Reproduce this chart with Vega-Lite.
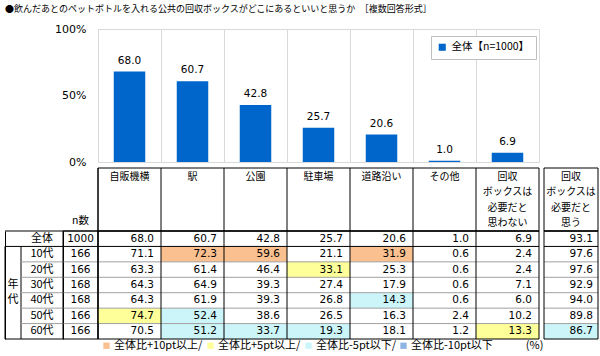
{
  "$schema": "https://vega.github.io/schema/vega-lite/v6.json",
  "padding": {"left": 4, "top": 4, "right": 3, "bottom": 0},
  "title": {"text": "●飲んだあとのペットボトルを入れる公共の回収ボックスがどこにあるといいと思うか　［複数回答形式］", "anchor": "start", "frame": "group", "fontSize": 9, "fontWeight": "normal", "font": "Noto Sans CJK JP", "color": "#000", "offset": 9},
  "config": {"view": {"stroke": null}, "font": "Noto Sans CJK JP"},
  "columns": 6,
  "spacing": 0,
  "align": "each",
  "bounds": "flush",
  "resolve": {"scale": {"color": "independent", "fill": "independent"}},
  "datasets": {
    "rows": [
      {"row": "全体", "n": 1000}, {"row": "10代", "n": 166}, {"row": "20代", "n": 166}, {"row": "30代", "n": 168},
      {"row": "40代", "n": 168}, {"row": "50代", "n": 166}, {"row": "60代", "n": 166}
    ],
    "cols": [
      {"col": "自販機横", "header": "自販機横"}, {"col": "駅", "header": "駅"}, {"col": "公園", "header": "公園"},
      {"col": "駐車場", "header": "駐車場"}, {"col": "道路沿い", "header": "道路沿い"}, {"col": "その他", "header": "その他"},
      {"col": "回収ボックスは必要だと思わない", "header": "回収\nボックスは\n必要だと\n思わない"},
      {"col": "回収ボックスは必要だと思う", "header": "回収\nボックスは\n必要だと\n思う"}
    ],
    "cells": [
      {"row": "全体", "col": "自販機横", "value": 68.0}, {"row": "全体", "col": "駅", "value": 60.7}, {"row": "全体", "col": "公園", "value": 42.8}, {"row": "全体", "col": "駐車場", "value": 25.7}, {"row": "全体", "col": "道路沿い", "value": 20.6}, {"row": "全体", "col": "その他", "value": 1.0}, {"row": "全体", "col": "回収ボックスは必要だと思わない", "value": 6.9}, {"row": "全体", "col": "回収ボックスは必要だと思う", "value": 93.1},
      {"row": "10代", "col": "自販機横", "value": 71.1}, {"row": "10代", "col": "駅", "value": 72.3}, {"row": "10代", "col": "公園", "value": 59.6}, {"row": "10代", "col": "駐車場", "value": 21.1}, {"row": "10代", "col": "道路沿い", "value": 31.9}, {"row": "10代", "col": "その他", "value": 0.6}, {"row": "10代", "col": "回収ボックスは必要だと思わない", "value": 2.4}, {"row": "10代", "col": "回収ボックスは必要だと思う", "value": 97.6},
      {"row": "20代", "col": "自販機横", "value": 63.3}, {"row": "20代", "col": "駅", "value": 61.4}, {"row": "20代", "col": "公園", "value": 46.4}, {"row": "20代", "col": "駐車場", "value": 33.1}, {"row": "20代", "col": "道路沿い", "value": 25.3}, {"row": "20代", "col": "その他", "value": 0.6}, {"row": "20代", "col": "回収ボックスは必要だと思わない", "value": 2.4}, {"row": "20代", "col": "回収ボックスは必要だと思う", "value": 97.6},
      {"row": "30代", "col": "自販機横", "value": 64.3}, {"row": "30代", "col": "駅", "value": 64.9}, {"row": "30代", "col": "公園", "value": 39.3}, {"row": "30代", "col": "駐車場", "value": 27.4}, {"row": "30代", "col": "道路沿い", "value": 17.9}, {"row": "30代", "col": "その他", "value": 0.6}, {"row": "30代", "col": "回収ボックスは必要だと思わない", "value": 7.1}, {"row": "30代", "col": "回収ボックスは必要だと思う", "value": 92.9},
      {"row": "40代", "col": "自販機横", "value": 64.3}, {"row": "40代", "col": "駅", "value": 61.9}, {"row": "40代", "col": "公園", "value": 39.3}, {"row": "40代", "col": "駐車場", "value": 26.8}, {"row": "40代", "col": "道路沿い", "value": 14.3}, {"row": "40代", "col": "その他", "value": 0.6}, {"row": "40代", "col": "回収ボックスは必要だと思わない", "value": 6.0}, {"row": "40代", "col": "回収ボックスは必要だと思う", "value": 94.0},
      {"row": "50代", "col": "自販機横", "value": 74.7}, {"row": "50代", "col": "駅", "value": 52.4}, {"row": "50代", "col": "公園", "value": 38.6}, {"row": "50代", "col": "駐車場", "value": 26.5}, {"row": "50代", "col": "道路沿い", "value": 16.3}, {"row": "50代", "col": "その他", "value": 2.4}, {"row": "50代", "col": "回収ボックスは必要だと思わない", "value": 10.2}, {"row": "50代", "col": "回収ボックスは必要だと思う", "value": 89.8},
      {"row": "60代", "col": "自販機横", "value": 70.5}, {"row": "60代", "col": "駅", "value": 51.2}, {"row": "60代", "col": "公園", "value": 33.7}, {"row": "60代", "col": "駐車場", "value": 19.3}, {"row": "60代", "col": "道路沿い", "value": 18.1}, {"row": "60代", "col": "その他", "value": 1.2}, {"row": "60代", "col": "回収ボックスは必要だと思わない", "value": 13.3}, {"row": "60代", "col": "回収ボックスは必要だと思う", "value": 86.7}
    ]
  },
  "concat": [
    {"width": 16, "height": 139, "data": {"values": [{}]}, "mark": "text", "encoding": {"text": {"value": ""}}},
    {"width": 42, "height": 139, "data": {"values": [{}]}, "mark": "text", "encoding": {"text": {"value": ""}}},
    {"width": 35, "height": 139, "data": {"values": [{}]}, "mark": "text", "encoding": {"text": {"value": ""}}},
    {
      "width": 441, "height": 133,
      "data": {"name": "cells"},
      "transform": [{"filter": "datum.row === '全体' && datum.col !== '回収ボックスは必要だと思う'"}],
      "view": {"stroke": "#D9D9D9"},
      "encoding": {
        "x": {"field": "col", "type": "nominal", "scale": {"type": "band", "domain": ["自販機横", "駅", "公園", "駐車場", "道路沿い", "その他", "回収ボックスは必要だと思わない"], "paddingInner": 0, "paddingOuter": 0},
          "axis": {"grid": true, "bandPosition": 0, "gridColor": "#D9D9D9", "labels": false, "ticks": false, "domain": false, "title": null}},
        "y": {"field": "value", "type": "quantitative", "scale": {"domain": [0, 100]},
          "axis": {"values": [0, 50, 100], "labelExpr": "datum.value + '%'", "grid": false, "ticks": false, "domain": false, "title": null, "labelPadding": 12, "labelFont": "DejaVu Sans", "labelFontSize": 11, "labelColor": "#000"}}
      },
      "layer": [
        {"mark": {"type": "bar", "width": {"band": 0.5}},
          "encoding": {"color": {"datum": "全体【n=1000】", "type": "nominal", "scale": {"range": ["#0066CC"]},
            "legend": {"orient": "none", "legendX": 333, "legendY": 7, "title": null, "strokeColor": "#BFBFBF", "fillColor": "#FFFFFF", "padding": 6, "symbolType": "square", "symbolSize": 50, "symbolStrokeWidth": 0, "labelFont": "Noto Sans CJK JP", "labelFontSize": 10.5, "labelColor": "#000"}}}},
        {"mark": {"type": "text", "baseline": "alphabetic", "dy": -8, "font": "DejaVu Sans", "fontSize": 10.5, "color": "#000"},
          "encoding": {"text": {"field": "value", "type": "quantitative", "format": ".1f"}}}
      ]
    },
    {"width": 5, "height": 139, "data": {"values": [{}]}, "mark": "text", "encoding": {"text": {"value": ""}}},
    {"width": 54, "height": 139, "data": {"values": [{}]}, "mark": "text", "encoding": {"text": {"value": ""}}},

    {"width": 16, "height": 63, "data": {"values": [{}]}, "mark": "text", "encoding": {"text": {"value": ""}}},
    {"width": 42, "height": 63, "data": {"values": [{}]}, "mark": "text", "encoding": {"text": {"value": ""}}},
    {"width": 35, "height": 63, "data": {"values": [{"h": "n数"}]}, "mark": {"type": "text", "fontSize": 10.5, "baseline": "middle", "dy": 21, "color": "#000"}, "encoding": {"text": {"field": "h"}}},
    {
      "width": 441, "height": 63,
      "layer": [
        {"data": {"name": "cols"}, "transform": [{"filter": "datum.col !== '回収ボックスは必要だと思う'"}],
          "mark": {"type": "rule", "color": "#000"},
          "encoding": {"x": {"field": "col", "type": "nominal", "bandPosition": 0, "scale": {"type": "band", "domain": ["自販機横", "駅", "公園", "駐車場", "道路沿い", "その他", "回収ボックスは必要だと思わない"], "paddingInner": 0, "paddingOuter": 0}, "axis": null}}},
        {"data": {"values": [{}]}, "mark": {"type": "rect", "fill": "transparent", "stroke": "#000", "strokeWidth": 1}, "encoding": {}},
        {"data": {"name": "cols"}, "transform": [{"filter": "datum.col !== '回収ボックスは必要だと思う'"}],
          "mark": {"type": "text", "baseline": "top", "lineBreak": "\n", "lineHeight": 15.6, "fontSize": 10, "dy": -28, "color": "#000"},
          "encoding": {"x": {"field": "col", "type": "nominal", "scale": {"type": "band", "domain": ["自販機横", "駅", "公園", "駐車場", "道路沿い", "その他", "回収ボックスは必要だと思わない"], "paddingInner": 0, "paddingOuter": 0}, "axis": null},
            "text": {"field": "header"}}}
      ]
    },
    {"width": 5, "height": 63, "data": {"values": [{}]}, "mark": "text", "encoding": {"text": {"value": ""}}},
    {
      "width": 54, "height": 63,
      "layer": [
        {"data": {"values": [{}]}, "mark": {"type": "rect", "fill": "transparent", "stroke": "#000", "strokeWidth": 1}, "encoding": {}},
        {"data": {"name": "cols"}, "transform": [{"filter": "datum.col === '回収ボックスは必要だと思う'"}],
          "mark": {"type": "text", "baseline": "top", "lineBreak": "\n", "lineHeight": 15.6, "fontSize": 10, "dy": -28, "color": "#000"},
          "encoding": {"text": {"field": "header"}}}
      ]
    },

    {
      "width": 16, "height": 108,
      "layer": [
        {"data": {"values": [{"from": "10代", "to": "60代"}]},
          "mark": {"type": "rect", "fill": "transparent", "stroke": "#000", "strokeWidth": 1},
          "encoding": {
            "y": {"field": "from", "type": "nominal", "bandPosition": 0, "scale": {"type": "band", "domain": ["全体", "10代", "20代", "30代", "40代", "50代", "60代"], "paddingInner": 0, "paddingOuter": 0},
              "axis": {"orient": "left", "domain": true, "domainColor": "#000", "labels": false, "ticks": false, "grid": false, "title": null}},
            "y2": {"field": "to", "bandPosition": 1}
          }},
        {"data": {"values": [{"row": "30代", "ch": "年"}, {"row": "40代", "ch": "代"}]},
          "mark": {"type": "text", "fontSize": 11, "color": "#000"},
          "encoding": {
            "y": {"field": "row", "type": "nominal", "scale": {"type": "band", "domain": ["全体", "10代", "20代", "30代", "40代", "50代", "60代"], "paddingInner": 0, "paddingOuter": 0},
              "axis": {"orient": "left", "domain": true, "domainColor": "#000", "labels": false, "ticks": false, "grid": false, "title": null}},
            "text": {"field": "ch"}
          }},
        {"data": {"name": "rows"}, "transform": [{"filter": "datum.row === '全体'"}],
          "mark": {"type": "rule", "color": "#000"},
          "encoding": {
            "y": {"field": "row", "type": "nominal", "bandPosition": 0, "scale": {"type": "band", "domain": ["全体", "10代", "20代", "30代", "40代", "50代", "60代"], "paddingInner": 0, "paddingOuter": 0},
              "axis": {"orient": "left", "domain": true, "domainColor": "#000", "labels": false, "ticks": false, "grid": false, "title": null}}
          }}
      ]
    },
    {
      "width": 42, "height": 108,
      "layer": [
        {"data": {"name": "rows"},
          "mark": {"type": "rule"},
          "encoding": {
            "y": {"field": "row", "type": "nominal", "bandPosition": 0, "scale": {"type": "band", "domain": ["全体", "10代", "20代", "30代", "40代", "50代", "60代"], "paddingInner": 0, "paddingOuter": 0},
              "axis": {"orient": "right", "domain": true, "domainColor": "#000", "labels": false, "ticks": false, "grid": false, "title": null}},
            "color": {"condition": {"test": "datum.row === '全体' || datum.row === '10代'", "value": "#000000"}, "value": "#A0A0A0"}
          }},
        {"data": {"name": "rows"}, "transform": [{"filter": "datum.row === '60代'"}],
          "mark": {"type": "rule", "color": "#000"},
          "encoding": {
            "y": {"field": "row", "type": "nominal", "bandPosition": 1, "scale": {"type": "band", "domain": ["全体", "10代", "20代", "30代", "40代", "50代", "60代"], "paddingInner": 0, "paddingOuter": 0},
              "axis": {"orient": "right", "domain": true, "domainColor": "#000", "labels": false, "ticks": false, "grid": false, "title": null}}
          }},
        {"data": {"name": "rows"},
          "mark": {"type": "text", "fontSize": 11, "color": "#000"},
          "encoding": {
            "y": {"field": "row", "type": "nominal", "scale": {"type": "band", "domain": ["全体", "10代", "20代", "30代", "40代", "50代", "60代"], "paddingInner": 0, "paddingOuter": 0},
              "axis": {"orient": "right", "domain": true, "domainColor": "#000", "labels": false, "ticks": false, "grid": false, "title": null}},
            "text": {"field": "row"}
          }}
      ]
    },
    {
      "width": 35, "height": 108,
      "layer": [
        {"data": {"name": "rows"},
          "mark": {"type": "rule"},
          "encoding": {
            "y": {"field": "row", "type": "nominal", "bandPosition": 0, "scale": {"type": "band", "domain": ["全体", "10代", "20代", "30代", "40代", "50代", "60代"], "paddingInner": 0, "paddingOuter": 0}, "axis": null},
            "color": {"condition": {"test": "datum.row === '全体' || datum.row === '10代'", "value": "#000000"}, "value": "#A0A0A0"}
          }},
        {"data": {"values": [{}]}, "mark": {"type": "rect", "fill": "transparent", "stroke": "#000", "strokeWidth": 1}, "encoding": {}},
        {"data": {"name": "rows"},
          "mark": {"type": "text", "font": "DejaVu Sans", "fontSize": 10.5, "color": "#000"},
          "encoding": {
            "y": {"field": "row", "type": "nominal", "scale": {"type": "band", "domain": ["全体", "10代", "20代", "30代", "40代", "50代", "60代"], "paddingInner": 0, "paddingOuter": 0}, "axis": null},
            "text": {"field": "n", "type": "quantitative", "format": "d"}
          }}
      ]
    },
    {
      "width": 441, "height": 108,
      "layer": [
        {"data": {"name": "cells"},
          "transform": [
            {"filter": "datum.col !== '回収ボックスは必要だと思う'"},
            {"calculate": "datum.row === '全体' ? datum.value : null", "as": "b"},
            {"joinaggregate": [{"op": "max", "field": "b", "as": "base"}], "groupby": ["col"]},
            {"calculate": "datum.value - datum.base >= 10 ? '全体比+10pt以上' : datum.value - datum.base >= 5 ? '全体比+5pt以上' : datum.value - datum.base <= -10 ? '全体比-10pt以下' : datum.value - datum.base <= -5 ? '全体比-5pt以下' : ''", "as": "hl"},
            {"filter": "datum.hl !== ''"}
          ],
          "mark": {"type": "rect"},
          "encoding": {
            "x": {"field": "col", "type": "nominal", "scale": {"type": "band", "domain": ["自販機横", "駅", "公園", "駐車場", "道路沿い", "その他", "回収ボックスは必要だと思わない"], "paddingInner": 0, "paddingOuter": 0}, "axis": null},
            "y": {"field": "row", "type": "nominal", "scale": {"type": "band", "domain": ["全体", "10代", "20代", "30代", "40代", "50代", "60代"], "paddingInner": 0, "paddingOuter": 0}, "axis": null},
            "fill": {"field": "hl", "type": "nominal",
              "scale": {"domain": ["全体比+10pt以上", "全体比+5pt以上", "全体比-5pt以下", "全体比-10pt以下"], "range": ["#FAC090", "#FFFF99", "#CCF5FA", "#8DB4E2"]},
              "legend": {"orient": "none", "legendX": 3, "legendY": 109, "direction": "horizontal", "columns": 4, "title": null, "padding": 0,
                "symbolType": "square", "symbolSize": 40, "symbolStrokeWidth": 0, "symbolOffset": 0, "labelOffset": 2, "columnPadding": 2,
                "labelFont": "Noto Sans CJK JP", "labelFontSize": 11, "labelColor": "#000", "labelLimit": 300,
                "labelExpr": "datum.label === '全体比-10pt以下' ? datum.label + '　　　(%)' : datum.label + '/'"}}
          }},
        {"data": {"name": "rows"},
          "mark": {"type": "rule"},
          "encoding": {
            "y": {"field": "row", "type": "nominal", "bandPosition": 0, "scale": {"type": "band", "domain": ["全体", "10代", "20代", "30代", "40代", "50代", "60代"], "paddingInner": 0, "paddingOuter": 0}, "axis": null},
            "color": {"condition": {"test": "datum.row === '全体' || datum.row === '10代'", "value": "#000000"}, "value": "#A0A0A0"}
          }},
        {"data": {"name": "cols"}, "transform": [{"filter": "datum.col !== '回収ボックスは必要だと思う'"}],
          "mark": {"type": "rule", "color": "#000"},
          "encoding": {"x": {"field": "col", "type": "nominal", "bandPosition": 0, "scale": {"type": "band", "domain": ["自販機横", "駅", "公園", "駐車場", "道路沿い", "その他", "回収ボックスは必要だと思わない"], "paddingInner": 0, "paddingOuter": 0}, "axis": null}}},
        {"data": {"values": [{}]}, "mark": {"type": "rect", "fill": "transparent", "stroke": "#000", "strokeWidth": 1}, "encoding": {}},
        {"data": {"name": "cells"}, "transform": [{"filter": "datum.col !== '回収ボックスは必要だと思う'"}],
          "mark": {"type": "text", "align": "right", "dx": -7, "font": "DejaVu Sans", "fontSize": 10.5, "color": "#000"},
          "encoding": {
            "x": {"field": "col", "type": "nominal", "bandPosition": 1, "scale": {"type": "band", "domain": ["自販機横", "駅", "公園", "駐車場", "道路沿い", "その他", "回収ボックスは必要だと思わない"], "paddingInner": 0, "paddingOuter": 0}, "axis": null},
            "y": {"field": "row", "type": "nominal", "scale": {"type": "band", "domain": ["全体", "10代", "20代", "30代", "40代", "50代", "60代"], "paddingInner": 0, "paddingOuter": 0}, "axis": null},
            "text": {"field": "value", "type": "quantitative", "format": ".1f"}
          }}
      ]
    },
    {"width": 5, "height": 108, "data": {"values": [{}]}, "mark": "text", "encoding": {"text": {"value": ""}}},
    {
      "width": 54, "height": 108,
      "layer": [
        {"data": {"name": "cells"},
          "transform": [
            {"filter": "datum.col === '回収ボックスは必要だと思う'"},
            {"calculate": "datum.row === '全体' ? datum.value : null", "as": "b"},
            {"joinaggregate": [{"op": "max", "field": "b", "as": "base"}], "groupby": ["col"]},
            {"calculate": "datum.value - datum.base >= 10 ? '全体比+10pt以上' : datum.value - datum.base >= 5 ? '全体比+5pt以上' : datum.value - datum.base <= -10 ? '全体比-10pt以下' : datum.value - datum.base <= -5 ? '全体比-5pt以下' : ''", "as": "hl"},
            {"filter": "datum.hl !== ''"}
          ],
          "mark": {"type": "rect"},
          "encoding": {
            "x": {"field": "col", "type": "nominal", "scale": {"type": "band", "domain": ["回収ボックスは必要だと思う"], "paddingInner": 0, "paddingOuter": 0}, "axis": null},
            "y": {"field": "row", "type": "nominal", "scale": {"type": "band", "domain": ["全体", "10代", "20代", "30代", "40代", "50代", "60代"], "paddingInner": 0, "paddingOuter": 0}, "axis": null},
            "fill": {"field": "hl", "type": "nominal",
              "scale": {"domain": ["全体比+10pt以上", "全体比+5pt以上", "全体比-5pt以下", "全体比-10pt以下"], "range": ["#FAC090", "#FFFF99", "#CCF5FA", "#8DB4E2"]},
              "legend": null}
          }},
        {"data": {"name": "rows"},
          "mark": {"type": "rule"},
          "encoding": {
            "y": {"field": "row", "type": "nominal", "bandPosition": 0, "scale": {"type": "band", "domain": ["全体", "10代", "20代", "30代", "40代", "50代", "60代"], "paddingInner": 0, "paddingOuter": 0}, "axis": null},
            "color": {"condition": {"test": "datum.row === '全体' || datum.row === '10代'", "value": "#000000"}, "value": "#A0A0A0"}
          }},
        {"data": {"values": [{}]}, "mark": {"type": "rect", "fill": "transparent", "stroke": "#000", "strokeWidth": 1}, "encoding": {}},
        {"data": {"name": "cells"}, "transform": [{"filter": "datum.col === '回収ボックスは必要だと思う'"}],
          "mark": {"type": "text", "align": "right", "dx": -5, "font": "DejaVu Sans", "fontSize": 10.5, "color": "#000"},
          "encoding": {
            "x": {"field": "col", "type": "nominal", "bandPosition": 1, "scale": {"type": "band", "domain": ["回収ボックスは必要だと思う"], "paddingInner": 0, "paddingOuter": 0}, "axis": null},
            "y": {"field": "row", "type": "nominal", "scale": {"type": "band", "domain": ["全体", "10代", "20代", "30代", "40代", "50代", "60代"], "paddingInner": 0, "paddingOuter": 0}, "axis": null},
            "text": {"field": "value", "type": "quantitative", "format": ".1f"}
          }}
      ]
    }
  ]
}
